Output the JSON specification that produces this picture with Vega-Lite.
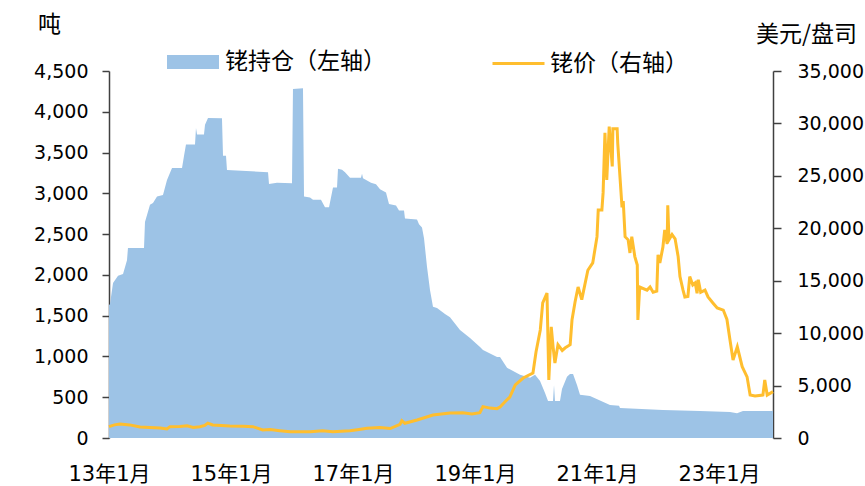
{
  "$schema": "https://vega.github.io/schema/vega-lite/v6.json",
  "width": 664,
  "height": 367,
  "autosize": "none",
  "padding": {"left": 109, "top": 71, "right": 92, "bottom": 48},
  "config": {"view": {"stroke": null}, "font": "Noto Sans CJK SC", "background": "#ffffff"},
  "datasets": {
    "holdings": [
      {"t": 2013.0, "v": 1630}, {"t": 2013.016, "v": 1640}, {"t": 2013.066, "v": 1900}, {"t": 2013.148, "v": 1990},
      {"t": 2013.23, "v": 2010}, {"t": 2013.295, "v": 2180}, {"t": 2013.311, "v": 2330}, {"t": 2013.574, "v": 2330},
      {"t": 2013.59, "v": 2650}, {"t": 2013.672, "v": 2860}, {"t": 2013.721, "v": 2880}, {"t": 2013.787, "v": 2960},
      {"t": 2013.885, "v": 2980}, {"t": 2013.951, "v": 3165}, {"t": 2014.033, "v": 3310}, {"t": 2014.197, "v": 3310},
      {"t": 2014.23, "v": 3460}, {"t": 2014.262, "v": 3600}, {"t": 2014.41, "v": 3600}, {"t": 2014.426, "v": 3800},
      {"t": 2014.443, "v": 3720}, {"t": 2014.557, "v": 3720}, {"t": 2014.574, "v": 3840}, {"t": 2014.623, "v": 3925},
      {"t": 2014.852, "v": 3920}, {"t": 2014.869, "v": 3460}, {"t": 2014.918, "v": 3460}, {"t": 2014.934, "v": 3285},
      {"t": 2015.607, "v": 3260}, {"t": 2015.623, "v": 3115}, {"t": 2015.754, "v": 3130}, {"t": 2016.0, "v": 3125},
      {"t": 2016.016, "v": 4280}, {"t": 2016.18, "v": 4290}, {"t": 2016.197, "v": 2960}, {"t": 2016.295, "v": 2950},
      {"t": 2016.344, "v": 2920}, {"t": 2016.475, "v": 2920}, {"t": 2016.541, "v": 2830}, {"t": 2016.607, "v": 2830},
      {"t": 2016.672, "v": 3070}, {"t": 2016.738, "v": 3070}, {"t": 2016.754, "v": 3300}, {"t": 2016.82, "v": 3290},
      {"t": 2016.869, "v": 3260}, {"t": 2016.951, "v": 3190}, {"t": 2017.131, "v": 3190}, {"t": 2017.148, "v": 3240},
      {"t": 2017.164, "v": 3185}, {"t": 2017.295, "v": 3130}, {"t": 2017.377, "v": 3110}, {"t": 2017.443, "v": 3050},
      {"t": 2017.541, "v": 3010}, {"t": 2017.59, "v": 2870}, {"t": 2017.705, "v": 2850}, {"t": 2017.754, "v": 2790},
      {"t": 2017.836, "v": 2790}, {"t": 2017.852, "v": 2690}, {"t": 2018.049, "v": 2680}, {"t": 2018.082, "v": 2620},
      {"t": 2018.131, "v": 2580}, {"t": 2018.164, "v": 2450}, {"t": 2018.213, "v": 2100}, {"t": 2018.262, "v": 1815},
      {"t": 2018.311, "v": 1610}, {"t": 2018.377, "v": 1595}, {"t": 2018.508, "v": 1520}, {"t": 2018.59, "v": 1480},
      {"t": 2018.754, "v": 1325}, {"t": 2018.918, "v": 1227}, {"t": 2019.082, "v": 1117}, {"t": 2019.131, "v": 1080},
      {"t": 2019.361, "v": 994}, {"t": 2019.41, "v": 994}, {"t": 2019.525, "v": 860}, {"t": 2019.738, "v": 776},
      {"t": 2019.902, "v": 740}, {"t": 2019.984, "v": 776}, {"t": 2020.066, "v": 700}, {"t": 2020.148, "v": 552},
      {"t": 2020.197, "v": 454}, {"t": 2020.279, "v": 454}, {"t": 2020.295, "v": 650}, {"t": 2020.311, "v": 454},
      {"t": 2020.393, "v": 454}, {"t": 2020.426, "v": 600}, {"t": 2020.508, "v": 750}, {"t": 2020.557, "v": 785},
      {"t": 2020.607, "v": 785}, {"t": 2020.672, "v": 650}, {"t": 2020.721, "v": 530}, {"t": 2020.885, "v": 515},
      {"t": 2021.213, "v": 405}, {"t": 2021.361, "v": 395}, {"t": 2021.377, "v": 368}, {"t": 2022.082, "v": 343},
      {"t": 2022.689, "v": 330}, {"t": 2023.18, "v": 320}, {"t": 2023.295, "v": 303}, {"t": 2023.393, "v": 330},
      {"t": 2023.885, "v": 330}
    ],
    "price": [
      {"t": 2013.0, "p": 1080}, {"t": 2013.09, "p": 1250}, {"t": 2013.18, "p": 1335}, {"t": 2013.34, "p": 1250},
      {"t": 2013.51, "p": 1050}, {"t": 2013.67, "p": 1000}, {"t": 2013.84, "p": 960}, {"t": 2013.95, "p": 860},
      {"t": 2014.0, "p": 1080}, {"t": 2014.16, "p": 1100}, {"t": 2014.28, "p": 1170}, {"t": 2014.38, "p": 1000},
      {"t": 2014.49, "p": 1080}, {"t": 2014.57, "p": 1200}, {"t": 2014.62, "p": 1420}, {"t": 2014.7, "p": 1240},
      {"t": 2014.98, "p": 1150}, {"t": 2015.2, "p": 1120}, {"t": 2015.36, "p": 1080}, {"t": 2015.52, "p": 760},
      {"t": 2015.64, "p": 800}, {"t": 2015.8, "p": 700}, {"t": 2015.97, "p": 600}, {"t": 2016.3, "p": 600},
      {"t": 2016.5, "p": 680}, {"t": 2016.67, "p": 600}, {"t": 2016.95, "p": 700}, {"t": 2017.1, "p": 820},
      {"t": 2017.23, "p": 920}, {"t": 2017.44, "p": 1000}, {"t": 2017.61, "p": 900}, {"t": 2017.77, "p": 1300},
      {"t": 2017.8, "p": 1650}, {"t": 2017.85, "p": 1400}, {"t": 2018.05, "p": 1720}, {"t": 2018.31, "p": 2190},
      {"t": 2018.59, "p": 2380}, {"t": 2018.8, "p": 2415}, {"t": 2018.95, "p": 2300}, {"t": 2019.08, "p": 2415},
      {"t": 2019.13, "p": 2990}, {"t": 2019.25, "p": 2850}, {"t": 2019.36, "p": 2800}, {"t": 2019.41, "p": 2960},
      {"t": 2019.5, "p": 3500}, {"t": 2019.57, "p": 3900}, {"t": 2019.66, "p": 5060}, {"t": 2019.79, "p": 5720},
      {"t": 2019.95, "p": 6200}, {"t": 2020.0, "p": 8200}, {"t": 2020.07, "p": 10300}, {"t": 2020.11, "p": 12880},
      {"t": 2020.18, "p": 13830}, {"t": 2020.21, "p": 5530}, {"t": 2020.25, "p": 10600}, {"t": 2020.28, "p": 8700},
      {"t": 2020.31, "p": 7150}, {"t": 2020.36, "p": 8900}, {"t": 2020.43, "p": 8350}, {"t": 2020.48, "p": 8600},
      {"t": 2020.56, "p": 8900}, {"t": 2020.59, "p": 11250}, {"t": 2020.64, "p": 12970}, {"t": 2020.69, "p": 14400},
      {"t": 2020.75, "p": 13200}, {"t": 2020.8, "p": 14600}, {"t": 2020.85, "p": 16000}, {"t": 2020.93, "p": 16700},
      {"t": 2021.0, "p": 19200}, {"t": 2021.02, "p": 21750}, {"t": 2021.08, "p": 21750}, {"t": 2021.1, "p": 23400},
      {"t": 2021.13, "p": 29100}, {"t": 2021.16, "p": 24600}, {"t": 2021.2, "p": 29700}, {"t": 2021.25, "p": 25900},
      {"t": 2021.26, "p": 29500}, {"t": 2021.33, "p": 29500}, {"t": 2021.34, "p": 28100}, {"t": 2021.38, "p": 24600},
      {"t": 2021.41, "p": 22000}, {"t": 2021.43, "p": 22600}, {"t": 2021.46, "p": 19200}, {"t": 2021.51, "p": 18900},
      {"t": 2021.54, "p": 17650}, {"t": 2021.57, "p": 19200}, {"t": 2021.62, "p": 17300}, {"t": 2021.66, "p": 16500},
      {"t": 2021.67, "p": 11250}, {"t": 2021.7, "p": 14400}, {"t": 2021.82, "p": 14100}, {"t": 2021.87, "p": 14400},
      {"t": 2021.92, "p": 13900}, {"t": 2021.98, "p": 14000}, {"t": 2022.0, "p": 17460}, {"t": 2022.03, "p": 16700},
      {"t": 2022.08, "p": 18200}, {"t": 2022.11, "p": 19850}, {"t": 2022.15, "p": 18500}, {"t": 2022.16, "p": 22200},
      {"t": 2022.18, "p": 18900}, {"t": 2022.23, "p": 19400}, {"t": 2022.28, "p": 19000}, {"t": 2022.33, "p": 17300},
      {"t": 2022.36, "p": 15400}, {"t": 2022.41, "p": 14100}, {"t": 2022.44, "p": 13450}, {"t": 2022.49, "p": 13500},
      {"t": 2022.52, "p": 15400}, {"t": 2022.57, "p": 14600}, {"t": 2022.61, "p": 14800}, {"t": 2022.64, "p": 13800},
      {"t": 2022.66, "p": 15100}, {"t": 2022.7, "p": 13900}, {"t": 2022.77, "p": 14100}, {"t": 2022.82, "p": 13450},
      {"t": 2022.9, "p": 12880}, {"t": 2022.97, "p": 12400}, {"t": 2023.07, "p": 12200}, {"t": 2023.13, "p": 11300},
      {"t": 2023.18, "p": 9350}, {"t": 2023.23, "p": 7440}, {"t": 2023.3, "p": 8700}, {"t": 2023.38, "p": 6800},
      {"t": 2023.46, "p": 5830}, {"t": 2023.51, "p": 4100}, {"t": 2023.59, "p": 4000}, {"t": 2023.72, "p": 4100},
      {"t": 2023.75, "p": 5530}, {"t": 2023.79, "p": 4100}, {"t": 2023.885, "p": 4420}
    ]
  },
  "layer": [
    {
      "data": {"name": "holdings"},
      "mark": {"type": "area", "interpolate": "linear"},
      "encoding": {
        "x": {
          "field": "t", "type": "quantitative",
          "scale": {"domain": [2013, 2023.885], "nice": false, "zero": false},
          "axis": {
            "orient": "bottom", "title": null, "domain": false, "ticks": false, "grid": false,
            "values": [2013, 2015, 2017, 2019, 2021, 2023],
            "labelExpr": "format(datum.value - 2000, 'd') + '年1月'",
            "labelFont": "DejaVu Sans, Noto Sans CJK SC", "labelFontSize": 21, "labelColor": "#000000",
            "labelPadding": 25, "labelFlush": false, "labelOverlap": false, "labelBound": false
          }
        },
        "y": {
          "field": "v", "type": "quantitative",
          "scale": {"domain": [0, 4500], "nice": false},
          "axis": {
            "orient": "left", "values": [0, 500, 1000, 1500, 2000, 2500, 3000, 3500, 4000, 4500], "format": ",d",
            "grid": false, "domainColor": "#404040", "domainWidth": 1.5, "tickColor": "#404040", "tickWidth": 1.5,
            "tickSize": 7, "labelPadding": 14, "labelFont": "DejaVu Sans", "labelFontSize": 19, "labelColor": "#000000",
            "title": "吨", "titleAngle": 0, "titleX": -60, "titleY": -47, "titleAlign": "center", "titleBaseline": "middle",
            "titleFont": "Noto Sans CJK SC", "titleFontSize": 23, "titleFontWeight": "normal", "titleColor": "#000000"
          }
        },
        "fill": {
          "datum": "铑持仓（左轴）", "type": "nominal",
          "scale": {"range": ["#9DC3E6"]},
          "legend": {
            "orient": "none", "legendX": 58, "legendY": -35, "title": null, "padding": 0,
            "symbolType": "M-1,-0.27H1V0.27H-1Z", "symbolSize": 2704, "symbolStrokeWidth": 0,
            "labelFont": "Noto Sans CJK SC", "labelFontSize": 23, "labelColor": "#000000", "labelOffset": 6, "labelLimit": 400
          }
        }
      }
    },
    {
      "data": {"name": "price"},
      "mark": {"type": "line", "strokeWidth": 3, "interpolate": "linear"},
      "encoding": {
        "x": {"field": "t", "type": "quantitative"},
        "y": {
          "field": "p", "type": "quantitative",
          "scale": {"domain": [0, 35000], "nice": false},
          "axis": {
            "orient": "right", "values": [0, 5000, 10000, 15000, 20000, 25000, 30000, 35000], "format": ",d",
            "grid": false, "domainColor": "#404040", "domainWidth": 1.5, "tickColor": "#404040", "tickWidth": 1.5,
            "tickSize": 8, "labelPadding": 16, "labelFont": "DejaVu Sans", "labelFontSize": 19, "labelColor": "#000000",
            "title": "美元/盘司", "titleAngle": 0, "titleX": 33, "titleY": -37, "titleAlign": "center", "titleBaseline": "middle",
            "titleFont": "Noto Sans CJK SC", "titleFontSize": 23, "titleFontWeight": "normal", "titleColor": "#000000"
          }
        },
        "stroke": {
          "datum": "铑价（右轴）", "type": "nominal",
          "scale": {"range": ["#FFBE2E"]},
          "legend": {
            "orient": "none", "legendX": 382, "legendY": -35, "title": null, "padding": 0,
            "symbolType": "stroke", "symbolSize": 2704, "symbolStrokeWidth": 3,
            "labelFont": "Noto Sans CJK SC", "labelFontSize": 23, "labelColor": "#000000", "labelOffset": 4, "labelLimit": 400
          }
        }
      }
    }
  ],
  "resolve": {"scale": {"y": "independent"}}
}
